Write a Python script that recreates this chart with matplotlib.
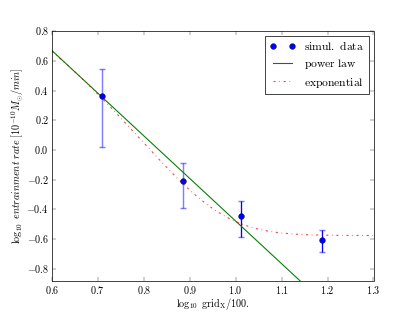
import numpy as np
import matplotlib
matplotlib.use("Agg")
import matplotlib.pyplot as plt
from matplotlib.ticker import FuncFormatter

plt.style.use('classic')
plt.rcParams['mathtext.fontset'] = 'cm'
plt.rcParams['font.family'] = ['DejaVu Serif']
plt.rcParams['figure.facecolor'] = 'white'
plt.rcParams['savefig.facecolor'] = 'white'

# data (log10 grid/100, log10 rate)
x_data = [0.709, 0.886, 1.011, 1.187]
y_data = [0.361, -0.211, -0.445, -0.605]
y_upper = [0.548, -0.085, -0.342, -0.536]
y_lower = [0.018, -0.391, -0.585, -0.686]

# fit parameters
pl_logK = 2.392
pl_index = 2.87
exp_A = 70.6
exp_B = 0.70
exp_C = 0.2661

x_ticks = [0.6, 0.7, 0.8, 0.9, 1.0, 1.1, 1.2, 1.3]
y_ticks = [-0.8, -0.6, -0.4, -0.2, 0.0, 0.2, 0.4, 0.6, 0.8]

fig = plt.figure(figsize=(415/52, 6), dpi=52)
ax = fig.add_axes([0.125, 0.1, 0.775, 0.8])

xd = np.array(x_data); yd = np.array(y_data)
err = np.array([yd - np.array(y_lower), np.array(y_upper) - yd])

ax.errorbar(xd, yd, yerr=err, fmt='none', ecolor='blue', alpha=0.5,
            capsize=4, elinewidth=2, capthick=2)
ax.errorbar(xd[2:], yd[2:], yerr=err[:, 2:], fmt='none', ecolor='#0000ff',
            capsize=0, elinewidth=1.5)
ax.plot(xd, yd, 'bo', markersize=8, label=r'$\mathrm{simul.\ data}$', zorder=5)

xx = np.linspace(0.6, 1.3, 300)
ax.plot(xx, pl_logK - pl_index * xx, 'g-', lw=1.5, label=r'$\mathrm{power\ law}$')
g = 10 ** xx
ax.plot(xx, np.log10(exp_A * np.exp(-exp_B * g) + exp_C), 'r-.', lw=1.5, alpha=0.75,
        label=r'$\mathrm{exponential}$')

ax.set_xlim(0.6, 1.3)
ax.set_ylim(-0.88, 0.8)
ax.set_xticks(x_ticks)
ax.set_yticks(y_ticks)
fmt = FuncFormatter(lambda v, p: r'$%.1f$' % v if abs(v) > 1e-9 else r'$0.0$')
ax.xaxis.set_major_formatter(fmt)
ax.yaxis.set_major_formatter(fmt)
ax.tick_params(labelsize=14, length=5, pad=4)

ax.set_xlabel(r'$\log_{10}\ \mathrm{grid}_\mathrm{X}/100.$', fontsize=14, labelpad=0)
ax.set_ylabel(r'$\log_{10}\ entrainment\ rate\ [10^{-10}M_{\odot}/min]$', fontsize=14, labelpad=0)

leg = ax.legend(loc='upper right', numpoints=2, fontsize=16, borderaxespad=0.4,
                labelspacing=0.35, handlelength=2.2)
leg.get_frame().set_edgecolor('black')

fig.savefig('out.png', dpi=52)
